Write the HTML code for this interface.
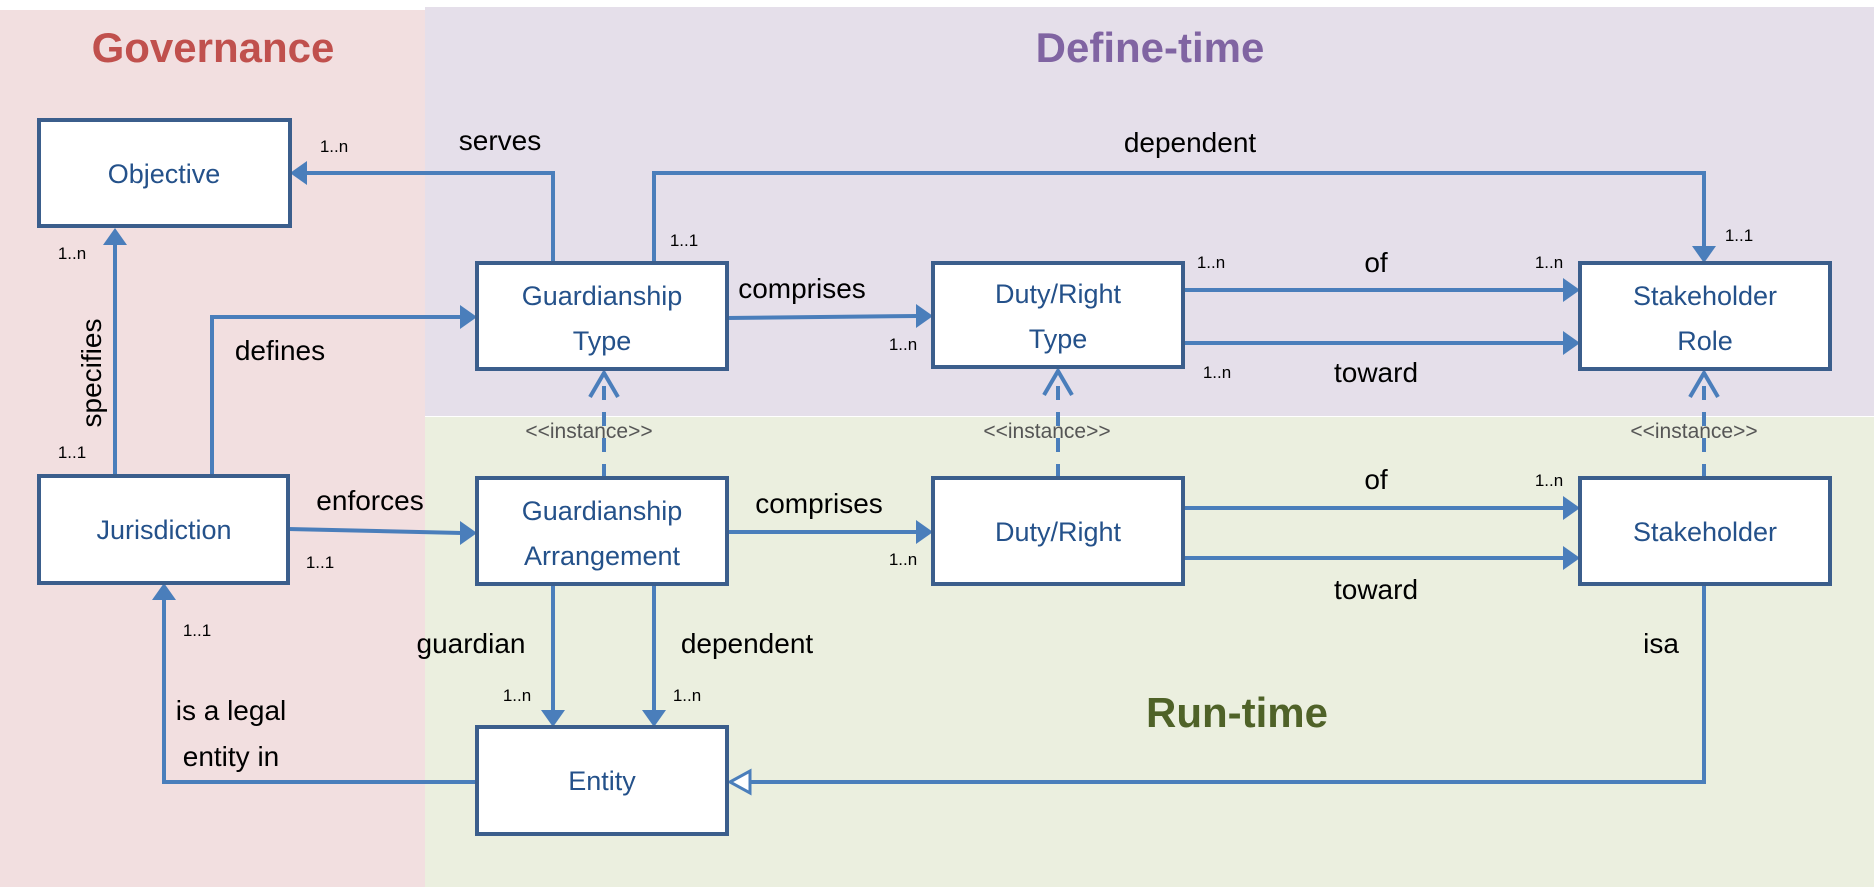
<!DOCTYPE html>
<html><head><meta charset="utf-8"><style>
html,body{margin:0;padding:0;background:#fff}
svg{display:block}
text{font-family:"Liberation Sans",sans-serif}
.b{fill:#fff;stroke:#3b5e8c;stroke-width:4}
.bt{fill:#24518a;font-size:27px;text-anchor:middle}
.l{fill:none;stroke:#4a7ebb;stroke-width:4}
.d{fill:none;stroke:#4a7ebb;stroke-width:4;stroke-dasharray:14,12}
.lb{fill:#000;font-size:28px;text-anchor:middle}
.m{fill:#000;font-size:17px;text-anchor:middle}
.in{fill:#555;font-size:21px;text-anchor:middle}
.ah{fill:#4a7ebb}
</style></head><body>
<svg width="1874" height="887" viewBox="0 0 1874 887">
<rect x="0" y="10" width="425" height="877" fill="#f2dfe0"/>
<rect x="425" y="7" width="1449" height="409" fill="#e5dfea"/>
<rect x="425" y="417" width="1449" height="470" fill="#ebefdf"/>
<text x="213" y="62" font-size="42" font-weight="bold" fill="#c0504d" text-anchor="middle">Governance</text>
<text x="1150" y="62" font-size="42" font-weight="bold" fill="#8064a2" text-anchor="middle">Define-time</text>
<text x="1237" y="727" font-size="42" font-weight="bold" fill="#4f6228" text-anchor="middle">Run-time</text>

<!-- connectors -->
<polyline class="l" points="553,263 553,173 305,173"/>
<polygon class="ah" points="290,173 307,161 307,185"/>
<polyline class="l" points="654,263 654,173 1704,173 1704,248"/>
<polygon class="ah" points="1704,263 1692,246 1716,246"/>
<line class="l" x1="115" y1="476" x2="115" y2="243"/>
<polygon class="ah" points="115,228 103,245 127,245"/>
<polyline class="l" points="212,476 212,317 462,317"/>
<polygon class="ah" points="477,317 460,305 460,329"/>
<line class="l" x1="727" y1="318" x2="918" y2="316"/>
<polygon class="ah" points="933,316 916,304 916,328"/>
<line class="l" x1="1183" y1="290" x2="1565" y2="290"/>
<polygon class="ah" points="1580,290 1563,278 1563,302"/>
<line class="l" x1="1183" y1="343" x2="1565" y2="343"/>
<polygon class="ah" points="1580,343 1563,331 1563,355"/>
<line class="l" x1="288" y1="529" x2="462" y2="533"/>
<polygon class="ah" points="477,533 460,521 460,545"/>
<line class="l" x1="727" y1="532" x2="918" y2="532"/>
<polygon class="ah" points="933,532 916,520 916,544"/>
<line class="l" x1="1183" y1="508" x2="1565" y2="508"/>
<polygon class="ah" points="1580,508 1563,496 1563,520"/>
<line class="l" x1="1183" y1="558" x2="1565" y2="558"/>
<polygon class="ah" points="1580,558 1563,546 1563,570"/>
<!-- instance dashed -->
<line class="d" x1="604" y1="478" x2="604" y2="374"/>
<polyline class="l" points="590,397 604,373 618,397"/>
<line class="d" x1="1058" y1="478" x2="1058" y2="372"/>
<polyline class="l" points="1044,395 1058,371 1072,395"/>
<line class="d" x1="1704" y1="478" x2="1704" y2="374"/>
<polyline class="l" points="1690,397 1704,373 1718,397"/>
<!-- guardian/dependent -->
<line class="l" x1="553" y1="584" x2="553" y2="712"/>
<polygon class="ah" points="553,727 541,710 565,710"/>
<line class="l" x1="654" y1="584" x2="654" y2="712"/>
<polygon class="ah" points="654,727 642,710 666,710"/>
<!-- isa -->
<polyline class="l" points="1704,584 1704,782 748,782"/>
<polygon points="730,782 750,771 750,793" fill="#fff" stroke="#4a7ebb" stroke-width="3"/>
<!-- legal entity -->
<polyline class="l" points="477,782 164,782 164,598"/>
<polygon class="ah" points="164,583 152,600 176,600"/>

<!-- boxes -->
<rect class="b" x="39" y="120" width="251" height="106"/>
<text class="bt" x="164" y="183">Objective</text>
<rect class="b" x="39" y="476" width="249" height="107"/>
<text class="bt" x="164" y="539">Jurisdiction</text>
<rect class="b" x="477" y="263" width="250" height="106"/>
<text class="bt" x="602" y="305">Guardianship</text><text class="bt" x="602" y="350">Type</text>
<rect class="b" x="933" y="263" width="250" height="104"/>
<text class="bt" x="1058" y="303">Duty/Right</text><text class="bt" x="1058" y="348">Type</text>
<rect class="b" x="1580" y="263" width="250" height="106"/>
<text class="bt" x="1705" y="305">Stakeholder</text><text class="bt" x="1705" y="350">Role</text>
<rect class="b" x="477" y="478" width="250" height="106"/>
<text class="bt" x="602" y="520">Guardianship</text><text class="bt" x="602" y="565">Arrangement</text>
<rect class="b" x="933" y="478" width="250" height="106"/>
<text class="bt" x="1058" y="541">Duty/Right</text>
<rect class="b" x="1580" y="478" width="250" height="106"/>
<text class="bt" x="1705" y="541">Stakeholder</text>
<rect class="b" x="477" y="727" width="250" height="107"/>
<text class="bt" x="602" y="790">Entity</text>

<!-- labels -->
<text class="m" x="334" y="152">1..n</text>
<text class="lb" x="500" y="150">serves</text>
<text class="lb" x="1190" y="152">dependent</text>
<text class="m" x="684" y="246">1..1</text>
<text class="m" x="1739" y="241">1..1</text>
<text class="m" x="72" y="259">1..n</text>
<text class="lb" transform="translate(101,373) rotate(-90)">specifies</text>
<text class="m" x="72" y="458">1..1</text>
<text class="lb" x="280" y="360">defines</text>
<text class="lb" x="802" y="298">comprises</text>
<text class="m" x="903" y="350">1..n</text>
<text class="m" x="1211" y="268">1..n</text>
<text class="lb" x="1376" y="272">of</text>
<text class="m" x="1549" y="268">1..n</text>
<text class="m" x="1217" y="378">1..n</text>
<text class="lb" x="1376" y="382">toward</text>
<text class="in" x="589" y="438">&lt;&lt;instance&gt;&gt;</text>
<text class="in" x="1047" y="438">&lt;&lt;instance&gt;&gt;</text>
<text class="in" x="1694" y="438">&lt;&lt;instance&gt;&gt;</text>
<text class="lb" x="370" y="510">enforces</text>
<text class="m" x="320" y="568">1..1</text>
<text class="lb" x="819" y="513">comprises</text>
<text class="m" x="903" y="565">1..n</text>
<text class="lb" x="1376" y="489">of</text>
<text class="m" x="1549" y="486">1..n</text>
<text class="lb" x="1376" y="599">toward</text>
<text class="lb" x="471" y="653">guardian</text>
<text class="lb" x="747" y="653">dependent</text>
<text class="m" x="517" y="701">1..n</text>
<text class="m" x="687" y="701">1..n</text>
<text class="m" x="197" y="636">1..1</text>
<text class="lb" x="231" y="720">is a legal</text>
<text class="lb" x="231" y="766">entity in</text>
<text class="lb" x="1661" y="653">isa</text>
</svg>
</body></html>
